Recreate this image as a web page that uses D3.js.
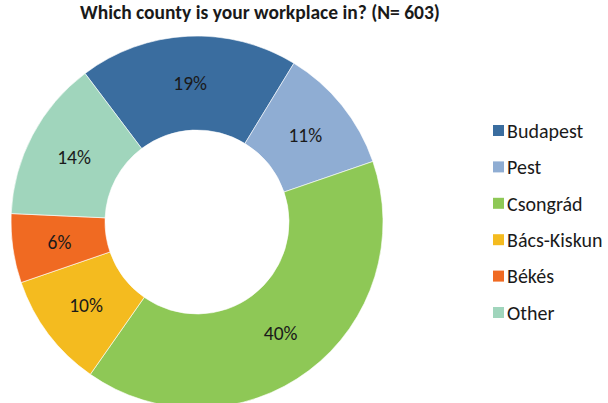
<!DOCTYPE html>
<html>
<head>
<meta charset="utf-8">
<script src="https://cdn.jsdelivr.net/npm/d3@7/dist/d3.min.js"></script>
<style>
  html, body { margin: 0; padding: 0; background: #fff; }
  svg { display: block; font-family: Carlito, Lato, "Open Sans", sans-serif; }
</style>
</head>
<body>
<svg id="chart" width="608" height="403"></svg>
<script>
// Workplace county shares (%), survey N = 603
const titleText = "Which county is your workplace in? (N= 603)";
const counties = ["Budapest", "Pest", "Csongrád", "Bács-Kiskun", "Békés", "Other"];
const shares = [19, 11, 40, 10, 6, 14];
const colors = ["#3a6d9f", "#8fadd3", "#8ec856", "#f4bb1f", "#f06a22", "#a0d5bc"];

const svg = d3.select("#chart");
const cx = 197, cy = 222, outerR = 186, innerR = 92;

svg.append("text")
  .attr("x", 260).attr("y", 18.5)
  .attr("text-anchor", "middle")
  .attr("font-size", 19.5).attr("font-weight", "bold")
  .attr("fill", "#1a1a1a")
  .text(titleText);

const data = counties.map((c, i) => ({ county: c, value: shares[i] }));
const color = d3.scaleOrdinal().domain(counties).range(colors);

const startAngle = -37 * Math.PI / 180;
const pie = d3.pie().value(d => d.value).sort(null)
  .startAngle(startAngle).endAngle(startAngle + 2 * Math.PI);
const arc = d3.arc().innerRadius(innerR).outerRadius(outerR);
const labelR = (innerR + outerR) / 2;
const labelArc = d3.arc().innerRadius(labelR).outerRadius(labelR);

const g = svg.append("g").attr("transform", `translate(${cx},${cy})`);
const arcs = pie(data);

g.selectAll("path.slice").data(arcs).join("path")
  .attr("class", "slice")
  .attr("d", arc)
  .attr("fill", d => color(d.data.county))
  .attr("stroke", "#fff").attr("stroke-width", 0.6);

g.selectAll("text.pct").data(arcs).join("text")
  .attr("class", "pct")
  .attr("transform", d => `translate(${labelArc.centroid(d)})`)
  .attr("text-anchor", "middle")
  .attr("dy", "0.35em")
  .attr("font-size", 19.5)
  .attr("fill", "#1a1a1a")
  .text(d => d.data.value + "%");

// Legend
const legendY = d3.scalePoint().domain(counties).range([130.5, 312.5]);
const legend = svg.append("g");
const item = legend.selectAll("g").data(data).join("g")
  .attr("transform", d => `translate(493,${legendY(d.county)})`);
item.append("rect")
  .attr("x", 0).attr("y", -5.5).attr("width", 11).attr("height", 11)
  .attr("fill", d => color(d.county));
item.append("text")
  .attr("x", 14).attr("dy", "0.36em")
  .attr("font-size", 20)
  .attr("fill", "#1a1a1a")
  .text(d => d.county);
</script>
</body>
</html>
